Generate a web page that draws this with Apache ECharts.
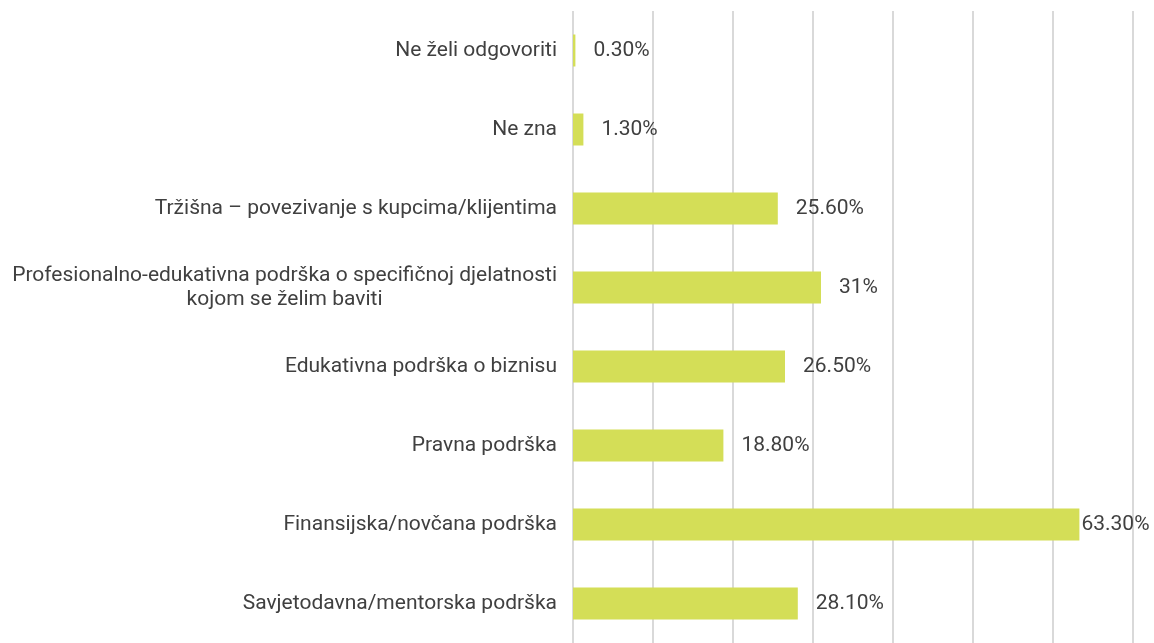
<!DOCTYPE html>
<html>
<head>
<meta charset="utf-8">
<script src="https://cdn.jsdelivr.net/npm/echarts@6/dist/echarts.min.js"></script>
<style>
  html, body { margin: 0; padding: 0; background: #fff; }
  #chart { width: 1154px; height: 643px; }
</style>
</head>
<body>
<div id="chart"></div>
<script>
// categories top to bottom
const categories = [
    "Ne želi odgovoriti",
    "Ne zna",
    "Tržišna – povezivanje s kupcima/klijentima",
    "Profesionalno-edukativna podrška o specifičnoj djelatnosti\nkojom se želim baviti",
    "Edukativna podrška o biznisu",
    "Pravna podrška",
    "Finansijska/novčana podrška",
    "Savjetodavna/mentorska podrška"
];
const values = [0.3, 1.3, 25.6, 31, 26.5, 18.8, 63.3, 28.1];
const valueLabels = ["0.30%", "1.30%", "25.60%", "31%", "26.50%", "18.80%", "63.30%", "28.10%"];

const font = 'Roboto, sans-serif';
const textColor = "#404040";

const chart = echarts.init(document.getElementById("chart"));

const option = {
    animation: false,
    grid: {
        left: 573,
        right: 21,
        top: 11,
        height: 638
    },
    xAxis: {
        type: "value",
        min: 0,
        max: 70,
        interval: 10,
        axisLabel: { show: false },
        axisLine: { show: false },
        axisTick: { show: false },
        splitLine: {
            show: true,
            lineStyle: { color: "#d9d9d9", width: 2 }
        }
    },
    yAxis: {
        type: "category",
        inverse: true,
        data: categories,
        axisLine: { show: false },
        axisTick: { show: false },
        axisLabel: {
            margin: 16,
            color: textColor,
            fontFamily: font,
            fontSize: 21,
            lineHeight: 24,
            formatter: function (v) {
                return v.split("\n").map(function (s) { return "{c|" + s + "}"; }).join("\n");
            },
            rich: {
                c: {
                    align: "center",
                    color: textColor,
                    fontFamily: font,
                    fontSize: 21,
                    lineHeight: 24
                }
            }
        }
    },
    series: [
        {
            type: "bar",
            barWidth: 32,
            itemStyle: { color: "#d4de57" },
            data: values.map(function (v, i) {
                return {
                    value: v,
                    label: { distance: v > 60 ? 2 : 18 }
                };
            }),
            label: {
                show: true,
                position: "right",
                color: textColor,
                fontFamily: font,
                fontSize: 21,
                formatter: function (p) { return valueLabels[p.dataIndex]; }
            }
        }
    ]
};

chart.setOption(option);
</script>
</body>
</html>
